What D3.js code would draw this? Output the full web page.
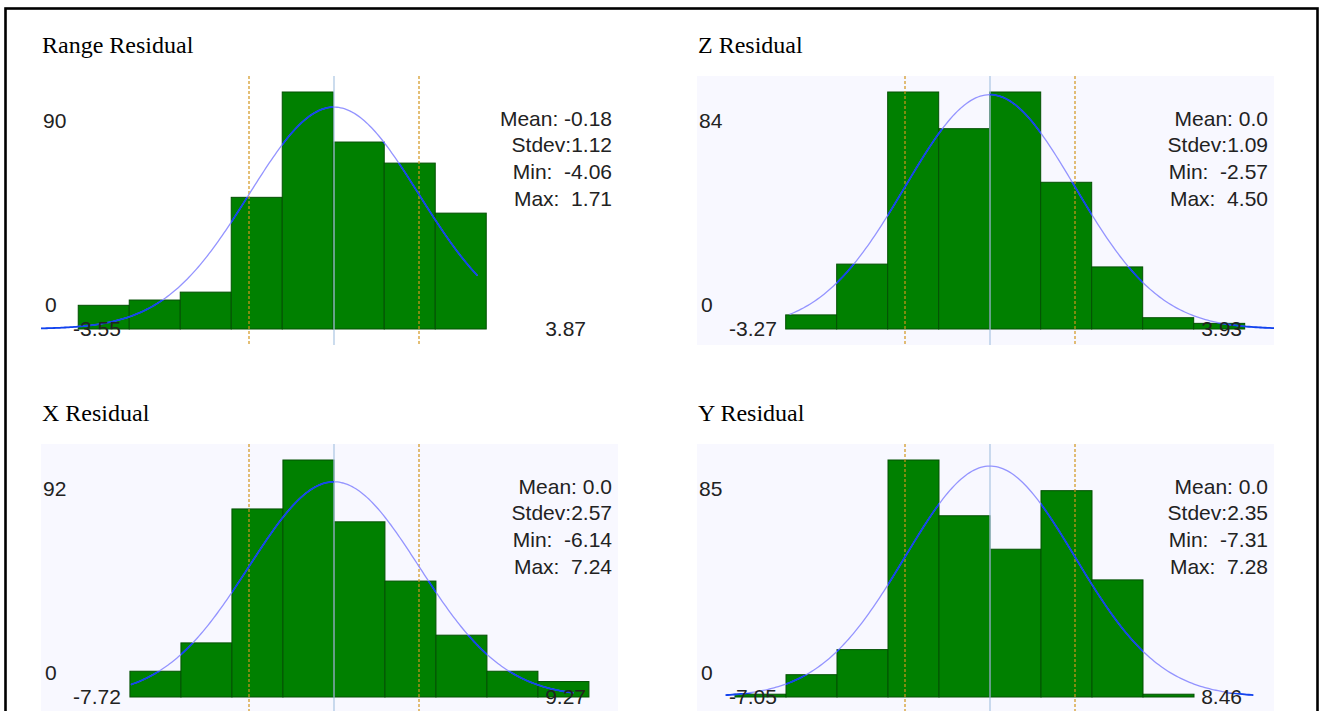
<!DOCTYPE html>
<html>
<head>
<meta charset="utf-8">
<script src="https://cdn.jsdelivr.net/npm/d3@7"></script>
<style>
  html, body { margin: 0; padding: 0; background: #ffffff; }
  svg { display: block; }
  text { white-space: pre; }
</style>
</head>
<body>
<svg id="chart" width="1326" height="711"></svg>
<script>
// ---- Residual histograms: data ----
const titles = ["Range Residual", "Z Residual", "X Residual", "Y Residual"];

// counts per bin, left to right
const rangeCounts = [9, 11, 14, 50, 90, 71, 63, 44];
const zCounts     = [5, 23, 84, 71, 84, 52, 22, 4, 2];
const xCounts     = [10, 21, 73, 92, 68, 45, 24, 10, 6];
const yCounts     = [1, 8, 17, 85, 65, 53, 74, 42, 1];

// left edge of the first bin, and bin width (data units)
const binStarts = [-3.55, -2.62, -6.17, -7.05];
const binWidths = [0.672, 0.654, 1.542, 1.41];

// summary statistics
const means  = [-0.18, 0.0, 0.0, 0.0];
const stdevs = [1.12, 1.09, 2.57, 2.35];
const mins   = [-4.06, -2.57, -6.14, -7.31];
const maxs   = [1.71, 4.50, 7.24, 7.28];

// axis labels
const yTopLabels   = [90, 84, 92, 85];
const xLeftLabels  = ["-3.55", "-3.27", "-7.72", "-7.05"];
const xRightLabels = ["3.87", "3.93", "9.27", "8.46"];

const allCounts = [rangeCounts, zCounts, xCounts, yCounts];

// ---- layout ----
const svg = d3.select("#chart");
const plotW = 577, plotH = 269;
const origins = [[41, 76], [697, 76], [41, 444], [697, 444]];
const plotFills = ["#ffffff", "#f8f8ff", "#f8f8ff", "#f8f8ff"];
const sansFont = "'Liberation Sans', Arial, sans-serif";
const serifFont = "'Liberation Serif', 'Times New Roman', serif";

// outer frame
svg.append("rect")
  .attr("x", 5.5).attr("y", 8.5)
  .attr("width", 1312).attr("height", 760)
  .attr("fill", "none").attr("stroke", "#000").attr("stroke-width", 2.6);

const fmtMean = v => (v === 0 ? "0.0" : v.toFixed(2));

function normalPdf(z) { return Math.exp(-0.5 * z * z) / Math.sqrt(2 * Math.PI); }

titles.forEach((title, p) => {
  const [left, top] = origins[p];
  const counts = allCounts[p];
  const mean = means[p], sd = stdevs[p];
  const bw = binWidths[p], b0 = binStarts[p];
  const cx = left + 293;

  const x = d3.scaleLinear().domain([mean - sd, mean + sd]).range([cx - 85, cx + 85]);
  const y = d3.scaleLinear().domain([0, yTopLabels[p]]).range([top + 253, top + 16]);

  const g = svg.append("g");

  // title
  g.append("text")
    .attr("x", left + 1).attr("y", top - 23)
    .attr("font-family", serifFont).attr("font-size", 24)
    .attr("fill", "#000").text(title);

  // plot background
  g.append("rect")
    .attr("x", left).attr("y", top)
    .attr("width", plotW).attr("height", plotH)
    .attr("fill", plotFills[p]);

  const clipId = "plotclip" + p;
  g.append("clipPath").attr("id", clipId)
    .append("rect").attr("x", left).attr("y", top).attr("width", plotW).attr("height", plotH);

  const bins = counts.map((c, i) => ({ x0: b0 + i * bw, x1: b0 + (i + 1) * bw, count: c }));

  // bars
  g.append("g").selectAll("rect").data(bins).join("rect")
    .attr("x", d => x(d.x0))
    .attr("y", d => y(d.count))
    .attr("width", d => x(d.x1) - x(d.x0))
    .attr("height", d => y(0) - y(d.count))
    .attr("fill", "#008000")
    .attr("stroke", "#035003")
    .attr("stroke-width", 1);

  // mean and +/- one standard deviation markers
  g.append("line")
    .attr("x1", x(mean)).attr("x2", x(mean))
    .attr("y1", top).attr("y2", top + plotH)
    .attr("stroke", "#a9c5e2").attr("stroke-width", 1.2);
  [mean - sd, mean + sd].forEach(v => {
    g.append("line")
      .attr("x1", x(v)).attr("x2", x(v))
      .attr("y1", top).attr("y2", top + plotH)
      .attr("stroke", "#d3951c").attr("stroke-width", 1.2)
      .attr("stroke-dasharray", "3,2");
  });

  // fitted normal curve, scaled to histogram counts
  const n = d3.sum(counts);
  const lo = mins[p], hi = maxs[p];
  const pts = d3.range(0, 241).map(k => {
    const v = lo + (hi - lo) * k / 240;
    return [v, n * bw * normalPdf((v - mean) / sd) / sd];
  });
  const line = d3.line().x(d => x(d[0])).y(d => y(d[1])).curve(d3.curveLinear);

  g.append("path")
    .attr("d", line(pts))
    .attr("clip-path", `url(#${clipId})`)
    .attr("fill", "none")
    .attr("stroke", "#9494ff").attr("stroke-width", 1.3);

  // stronger stroke where the curve runs over the bars or along the baseline
  const darkId = "darkclip" + p;
  const dc = g.append("clipPath").attr("id", darkId);
  dc.selectAll("rect.bin").data(bins).join("rect").attr("class", "bin")
    .attr("x", d => x(d.x0))
    .attr("y", d => y(d.count))
    .attr("width", d => x(d.x1) - x(d.x0))
    .attr("height", d => y(0) - y(d.count));
  dc.append("rect")
    .attr("x", left).attr("y", y(0) - 4)
    .attr("width", plotW).attr("height", 8);

  g.append("g").attr("clip-path", `url(#${clipId})`)
    .append("path")
    .attr("d", line(pts))
    .attr("clip-path", `url(#${darkId})`)
    .attr("fill", "none")
    .attr("stroke", "#1244ee").attr("stroke-width", 1.8);

  // axis labels
  const lab = g.append("g")
    .attr("font-family", sansFont).attr("font-size", 21).attr("fill", "#222");
  lab.append("text").attr("x", left + 2).attr("y", top + 52).text(String(yTopLabels[p]));
  lab.append("text").attr("x", left + 4).attr("y", top + 236).text("0");
  lab.append("text").attr("x", left + 32).attr("y", top + 260).text(xLeftLabels[p]);
  lab.append("text").attr("x", left + plotW - 32).attr("y", top + 260)
    .attr("text-anchor", "end").text(xRightLabels[p]);

  // statistics block
  const stats = [
    "Mean: " + fmtMean(mean),
    "Stdev:" + sd.toFixed(2),
    "Min:  " + mins[p].toFixed(2),
    "Max:  " + maxs[p].toFixed(2)
  ];
  const statY = [50, 76, 103, 130];
  lab.selectAll("text.stat").data(stats).join("text").attr("class", "stat")
    .attr("x", left + 571)
    .attr("y", (d, i) => top + statY[i])
    .attr("text-anchor", "end")
    .text(d => d);
});
</script>
</body>
</html>
